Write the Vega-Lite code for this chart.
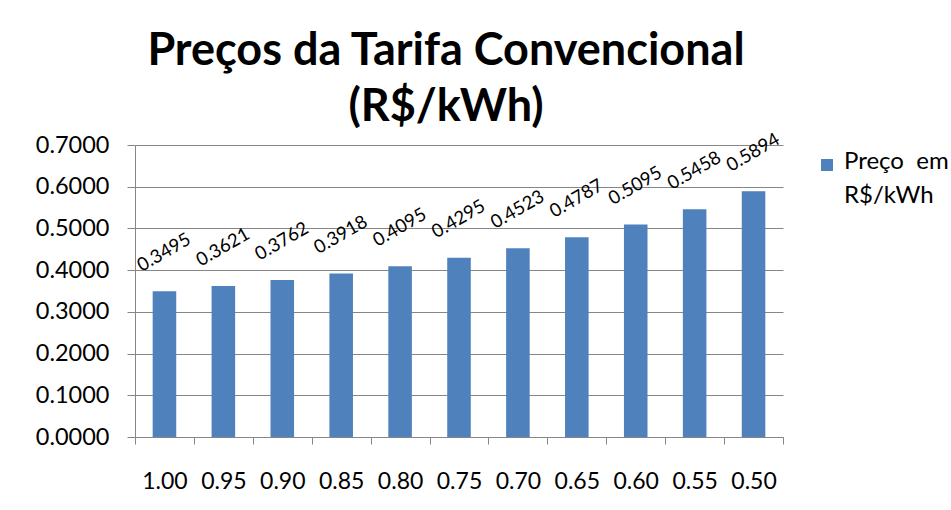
{
  "$schema": "https://vega.github.io/schema/vega-lite/v6.json",
  "autosize": "none",
  "width": 648,
  "height": 292,
  "padding": {"left": 135, "top": 145, "right": 168, "bottom": 73},
  "background": "white",
  "title": {
    "text": ["Preços da Tarifa Convencional", "(R$/kWh)"],
    "font": "Lato",
    "fontSize": 45,
    "fontWeight": "bold",
    "color": "black",
    "anchor": "middle",
    "frame": "group",
    "dx": -13,
    "offset": 0,
    "lineHeight": 56
  },
  "data": {
    "values": [
      {"fator": "1.00", "preco": 0.3495},
      {"fator": "0.95", "preco": 0.3621},
      {"fator": "0.90", "preco": 0.3762},
      {"fator": "0.85", "preco": 0.3918},
      {"fator": "0.80", "preco": 0.4095},
      {"fator": "0.75", "preco": 0.4295},
      {"fator": "0.70", "preco": 0.4523},
      {"fator": "0.65", "preco": 0.4787},
      {"fator": "0.60", "preco": 0.5095},
      {"fator": "0.55", "preco": 0.5458},
      {"fator": "0.50", "preco": 0.5894}
    ]
  },
  "encoding": {
    "x": {
      "field": "fator",
      "type": "nominal",
      "sort": null,
      "scale": {"paddingInner": 0, "paddingOuter": 0},
      "axis": {
        "title": null,
        "labelAngle": 0,
        "labelFont": "Lato",
        "labelFontSize": 23,
        "labelColor": "black",
        "labelPadding": 26,
        "tickBand": "extent",
        "tickSize": 7,
        "tickColor": "#868686",
        "domainColor": "#868686",
        "grid": false
      }
    },
    "y": {
      "field": "preco",
      "type": "quantitative",
      "scale": {"domain": [0, 0.7]},
      "axis": {
        "title": null,
        "values": [0, 0.1, 0.2, 0.3, 0.4, 0.5, 0.6, 0.7],
        "format": ".4f",
        "labelFont": "Lato",
        "labelFontSize": 23.5,
        "labelColor": "black",
        "labelPadding": 18,
        "tickSize": 8,
        "tickColor": "#868686",
        "domainColor": "#868686",
        "gridColor": "#868686",
        "grid": true
      }
    }
  },
  "layer": [
    {
      "mark": {"type": "bar", "width": {"band": 0.4}, "color": "#4F81BD"},
      "encoding": {
        "color": {
          "datum": "Preço em R$/kWh",
          "scale": {"range": ["#4F81BD"]},
          "legend": {
            "title": null,
            "orient": "none",
            "legendX": 680,
            "legendY": 8,
            "symbolType": "square",
            "symbolSize": 144,
            "symbolStrokeWidth": 0,
            "labelFont": "Lato",
            "labelFontSize": 24,
            "labelColor": "black",
            "labelLimit": 0,
            "labelBaseline": "top",
            "labelOffset": 5,
            "labelExpr": "['Preço\u00a0 em', 'R$/kWh']",
            "encode": {
              "labels": {"update": {"lineHeight": {"value": 34}, "dy": {"value": -15}}}
            }
          }
        }
      }
    },
    {
      "mark": {
        "type": "text",
        "angle": 330,
        "align": "center",
        "baseline": "middle",
        "dx": 19,
        "dy": -34,
        "font": "Lato",
        "fontSize": 18.5,
        "color": "black"
      },
      "encoding": {
        "text": {"field": "preco", "type": "quantitative", "format": ".4f"}
      }
    }
  ],
  "config": {"view": {"stroke": null}}
}
